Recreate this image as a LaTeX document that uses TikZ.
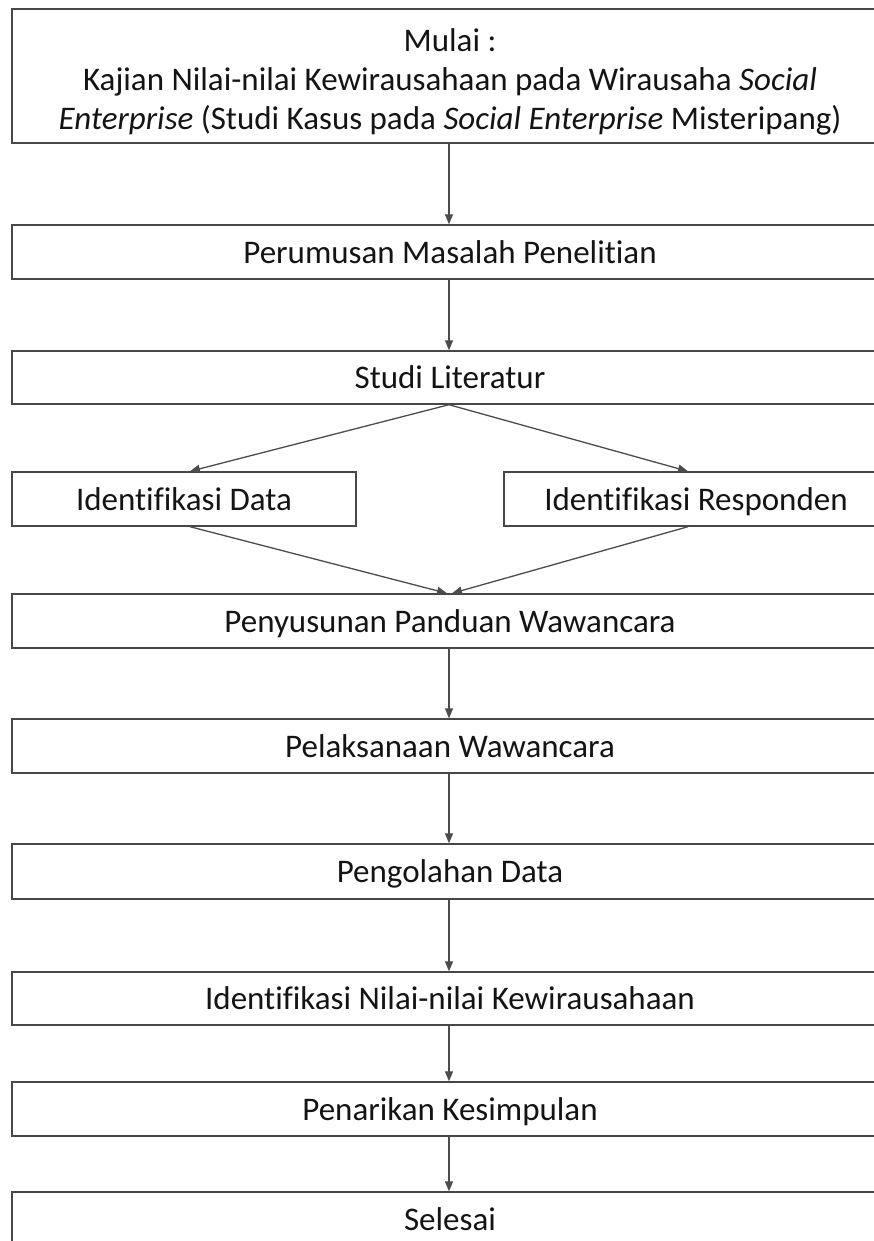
\documentclass[tikz,border=0pt]{standalone}
\usepackage{fontspec}
\setmainfont[Ligatures=NoCommon]{Carlito}
\usetikzlibrary{arrows.meta}
\begin{document}
\begin{tikzpicture}[x=1pt,y=-1pt,
  box/.style={draw=black!72, line width=1.4pt, fill=white, inner sep=0pt, align=center,
    font=\fontsize{33}{38}\selectfont, text=black!92, text height=26pt, text depth=4pt},
  wide/.style={box, minimum width=876pt, minimum height=54pt},
  conn/.style={draw=black!70, line width=1.3pt, -{Triangle[length=10pt,width=8pt]}}
]
\useasboundingbox (0,0) rectangle (874,1241);
\fill[white] (0,0) rectangle (874,1241);
\begin{scope}
\clip (0,0) rectangle (874,1241);
\node[wide, minimum height=134pt, text height=, text depth=, font=\fontsize{33}{39}\selectfont] (mulai) at (450,76)
  {\rule{0pt}{35pt}Mulai :\\Kajian Nilai-nilai Kewirausahaan pada Wirausaha \textit{Social}\\\textit{Enterprise} (Studi Kasus pada \textit{Social Enterprise} Misteripang)};
\node[wide] (rumus) at (450,252) {Perumusan Masalah Penelitian};
\node[wide, minimum height=53pt] (studi) at (450,377.5) {Studi Literatur};
\node[box, minimum width=344pt, minimum height=54pt] (idata) at (184,499) {Identifikasi Data};
\node[box, minimum width=384pt, minimum height=54pt] (iresp) at (696,499) {Identifikasi Responden};
\node[wide] (susun) at (450,621) {Penyusunan Panduan Wawancara};
\node[wide] (laksana) at (450,746) {Pelaksanaan Wawancara};
\node[wide, minimum height=55pt] (olah) at (450,871.5) {Pengolahan Data};
\node[wide, minimum height=53pt] (nilai) at (450,998.5) {Identifikasi Nilai-nilai Kewirausahaan};
\node[wide] (tarik) at (450,1109) {Penarikan Kesimpulan};
\node[wide] (selesai) at (450,1219) {Selesai};

\draw[conn] ([xshift=-1pt]mulai.south) -- ([xshift=-1pt]rumus.north);
\draw[conn] ([xshift=-1pt]rumus.south) -- ([xshift=-1pt]studi.north);
\draw[conn] ([xshift=-1pt]studi.south) -- ([xshift=6pt]idata.north);
\draw[conn] ([xshift=-1pt]studi.south) -- ([xshift=-8pt]iresp.north);
\draw[conn] ([xshift=6pt]idata.south) -- ([xshift=-3pt]susun.north);
\draw[conn] ([xshift=-8pt]iresp.south) -- ([xshift=2pt]susun.north);
\draw[conn] ([xshift=-1pt]susun.south) -- ([xshift=-1pt]laksana.north);
\draw[conn] ([xshift=-1pt]laksana.south) -- ([xshift=-1pt]olah.north);
\draw[conn] ([xshift=-1pt]olah.south) -- ([xshift=-1pt]nilai.north);
\draw[conn] ([xshift=-1pt]nilai.south) -- ([xshift=-1pt]tarik.north);
\draw[conn] ([xshift=-1pt]tarik.south) -- ([xshift=-1pt]selesai.north);
\end{scope}
\end{tikzpicture}
\end{document}
